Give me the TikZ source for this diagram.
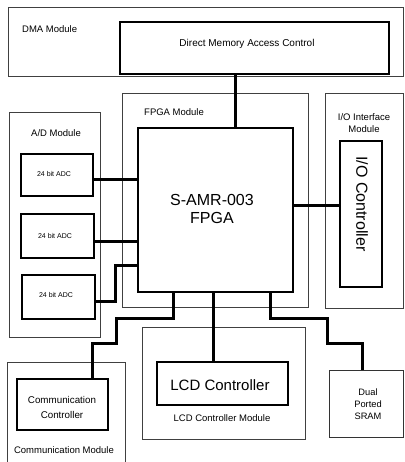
\documentclass[tikz,border=0pt]{standalone}
\usepackage{fontspec}
\setmainfont{Liberation Sans}
\begin{document}
\begin{tikzpicture}[x=1pt,y=-1pt,
  modbox/.style={draw=black!75,line width=0.6pt,inner sep=0pt,outer sep=0pt},
  blk/.style={draw=black,line width=1.3pt,inner sep=0pt,outer sep=0pt},
  wire/.style={line width=3pt,line join=miter},
  lbl/.style={font=\fontsize{9.5}{11.5}\selectfont,inner sep=0pt,align=center},
  big/.style={font=\fontsize{16}{19}\selectfont,inner sep=0pt,align=center},
  tiny/.style={font=\fontsize{7}{8}\selectfont,inner sep=0pt}]
\useasboundingbox[fill=white] (0,0) rectangle (404,462);
% module frames
\node[modbox,minimum width=395pt,minimum height=69pt] (dmamod) at (205.5,41.5) {};
\node[modbox,minimum width=186pt,minimum height=214pt] (fpgamod) at (215,200) {};
\node[modbox,minimum width=91pt,minimum height=225pt] (admod) at (54.5,224.5) {};
\node[modbox,minimum width=78pt,minimum height=215pt] (iomod) at (364,200.5) {};
\node[modbox,minimum width=118pt,minimum height=108pt] (commod) at (66,416) {};
\node[modbox,minimum width=163pt,minimum height=112pt] (lcdmod) at (223.5,383) {};
% module labels
\node[lbl,anchor=west] (dmalbl) at (22,29.5) {DMA Module};
\node[lbl,anchor=west] (fpgalbl) at (144,112) {FPGA Module};
\node[lbl] (adlbl) at (56,133) {A/D Module};
\node[lbl] (iolbl) at (364,123) {I/O Interface\\Module};
\node[lbl] (comlbl) at (64,450) {Communication Module};
\node[lbl] (lcdlbl) at (222,418) {LCD Controller Module};
% blocks
\node[blk,minimum width=269pt,minimum height=52pt] (dmactl) at (254.5,48) {};
\node[lbl,font=\fontsize{10}{12}\selectfont] (dmatxt) at (247,44) {Direct Memory Access Control};
\node[blk,minimum width=155pt,minimum height=164pt] (fpga) at (215.5,210) {};
\node[big,font=\fontsize{16}{18.5}\selectfont] (fpgatxt) at (212,209) {S-AMR-003\\FPGA};
\node[blk,minimum width=72pt,minimum height=42pt] (adc1) at (57,175) {};
\node[blk,minimum width=73pt,minimum height=44pt] (adc2) at (57.5,236) {};
\node[blk,minimum width=73pt,minimum height=44pt] (adc3) at (58.5,297) {};
\node[tiny] (adc1txt) at (54,174) {24 bit ADC};
\node[tiny] (adc2txt) at (55,236) {24 bit ADC};
\node[tiny] (adc3txt) at (56,295) {24 bit ADC};
\node[blk,minimum width=42pt,minimum height=146pt] (ioctl) at (361,214) {};
\node[big,rotate=-90] (iotxt) at (362,204) {I/O Controller};
\node[blk,minimum width=91pt,minimum height=51pt] (comctl) at (62.5,404.5) {};
\node[lbl,font=\fontsize{9.8}{15}\selectfont] (comtxt) at (62,407) {Communication\\Controller};
\node[blk,minimum width=131pt,minimum height=43pt] (lcdctl) at (222.5,383.5) {};
\node[big,font=\fontsize{15}{18}\selectfont] (lcdtxt) at (220,385) {LCD Controller};
\node[modbox,draw=black!80,line width=0.7pt,minimum width=74pt,minimum height=67pt] (sram) at (366,403.5) {};
\node[lbl,font=\fontsize{9.3}{12}\selectfont] (sramtxt) at (368,404) {Dual\\Ported\\SRAM};
% connectors
\draw[wire] (dmactl.south -| 235,0) -- (fpga.north -| 235,0);
\draw[wire] (adc1.east |- 0,180) -- (fpga.west |- 0,180);
\draw[wire] (adc2.east |- 0,241) -- (fpga.west |- 0,241);
\draw[wire] (adc3.east |- 0,301) -- (115,301) -- (115,265) -- (fpga.west |- 0,265);
\draw[wire] (fpga.east |- 0,205) -- (ioctl.west |- 0,205);
\draw[wire] (fpga.south -| 173,0) -- (173,318) -- (116,318) -- (116,343) -- (92,343) -- (comctl.north -| 92,0);
\draw[wire] (fpga.south -| 213,0) -- (lcdctl.north -| 213,0);
\draw[wire] (fpga.south -| 270,0) -- (270,318) -- (327,318) -- (327,343) -- (362,343) -- (sram.north -| 362,0);
\end{tikzpicture}
\end{document}
